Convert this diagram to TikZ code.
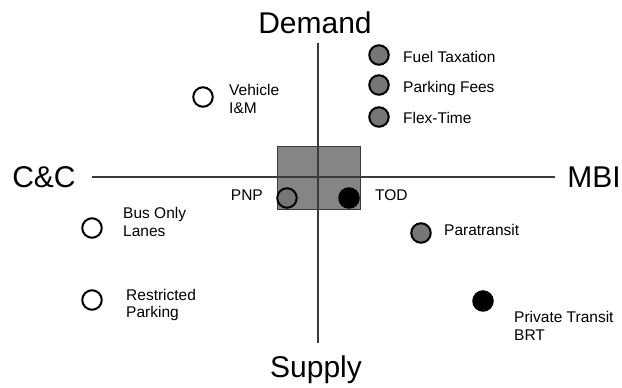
\documentclass[tikz,border=0pt]{standalone}
\usepackage{fontspec}
\setmainfont{Liberation Sans}
\usepackage{tikz}
\usetikzlibrary{positioning}
\definecolor{axisgray}{HTML}{3A3A3A}
\definecolor{boxgray}{HTML}{858585}
\definecolor{dotgray}{HTML}{767676}
\newcommand{\axisfont}{\fontsize{30}{36}\selectfont}
\newcommand{\itemfont}{\fontsize{15.5}{17.5}\selectfont}

\begin{document}
\begin{tikzpicture}[x=1pt,y=-1pt]
  \path[use as bounding box] (0,0) rectangle (622,388);
  \tikzset{
    axislabel/.style={inner sep=0pt,font=\axisfont},
    item/.style={inner sep=0pt,align=left,font=\itemfont},
    opendot/.style={circle,draw=black,fill=white,line width=2pt,minimum size=19.5pt,inner sep=0pt},
    graydot/.style={opendot,fill=dotgray},
    blackdot/.style={opendot,fill=black},
    axisline/.style={draw=axisgray,line width=1.3pt}
  }
  % overlap zone
  \node[draw=axisgray,fill=boxgray,line width=0.9pt,minimum width=83pt,minimum height=63pt,inner sep=0pt] (core) at (318.5,177.5) {};

  % axes
  \coordinate (top) at (318,43);
  \coordinate (bottom) at (318,343);
  \coordinate (left) at (92,177);
  \coordinate (right) at (555,177);
  \draw[axisline] (top) -- (bottom);
  \draw[axisline] (left) -- (right);

  \node[axislabel,anchor=base] (demand) at (315,33) {Demand};
  \node[axislabel,anchor=base] (supply) at (316,377) {Supply};
  \node[axislabel,anchor=base] (cc) at (44,187) {C\&C};
  \node[axislabel,anchor=base] (mbi) at (594,187) {MBI};

  % measures
  \node[graydot] (fuel) at (379,55) {};
  \node[graydot] (fees) at (379,85) {};
  \node[graydot] (flex) at (379,117) {};
  \node[opendot] (vim) at (203,97) {};
  \node[graydot] (pnp) at (287,198) {};
  \node[blackdot] (tod) at (349,198) {};
  \node[opendot] (bus) at (92,228) {};
  \node[opendot] (restr) at (92,300) {};
  \node[graydot] (para) at (421,233) {};
  \node[blackdot] (brt) at (483,301) {};

  \node[item,anchor=base west] (fuellbl) at (403,62) {Fuel Taxation};
  \node[item,anchor=base west] (feeslbl) at (403,92) {Parking Fees};
  \node[item,anchor=base west] (flexlbl) at (403,123) {Flex-Time};
  \node[item,anchor=west] (vimlbl) at (229,99) {Vehicle\\I\&M};
  \node[item,anchor=base east] (pnplbl) at (263,200) {PNP};
  \node[item,anchor=base west] (todlbl) at (375,200) {TOD};
  \node[item,anchor=west] (buslbl) at (123,222) {Bus Only\\Lanes};
  \node[item,anchor=west] (restrlbl) at (126,305) {Restricted\\Parking};
  \node[item,anchor=base west] (paralbl) at (444,235) {Paratransit};
  \node[item,anchor=west] (brtlbl) at (514,326) {Private Transit\\BRT};
\end{tikzpicture}
\end{document}
